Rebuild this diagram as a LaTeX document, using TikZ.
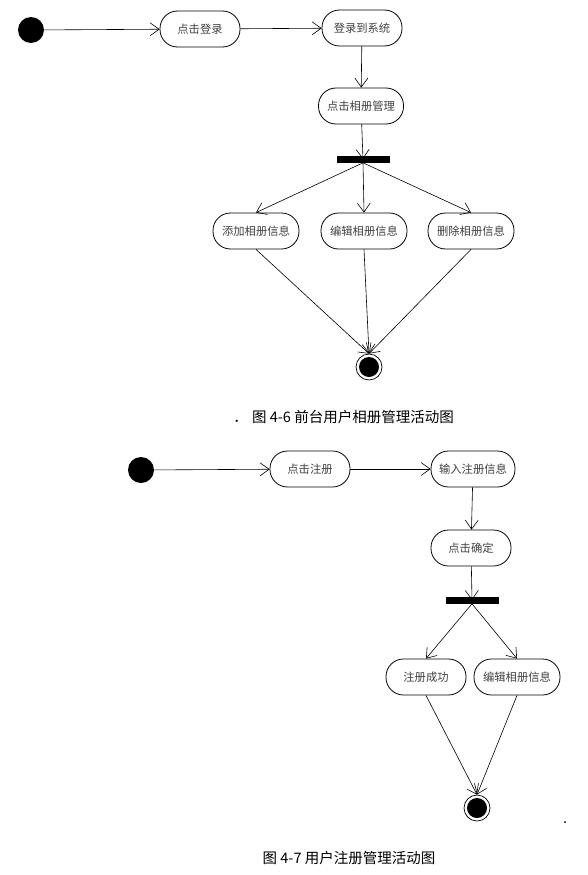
\documentclass[tikz,border=0pt]{standalone}
\usepackage{fontspec}
\setmainfont{Noto Sans CJK SC}
\usetikzlibrary{arrows.meta}

\begin{document}
\begin{tikzpicture}[x=1pt,y=-1pt,line cap=butt,line join=miter,>={Straight Barb[length=9pt,width=13pt]},line width=0.6pt]
		\tikzset{act/.style={draw,line width=0.8pt,rectangle,rounded corners=17.5pt,minimum width=80pt,minimum height=36pt,inner sep=2pt,font=\fontsize{11.3}{13}\selectfont,text=black!75},
			wideact/.style={act,minimum width=86pt},
			startdot/.style={circle,fill=black,minimum size=26pt,inner sep=0pt},
			stopdot/.style={circle,draw,line width=0.7pt,minimum size=26pt,inner sep=0pt,
				path picture={\fill (path picture bounding box.center) circle (10pt);}},
			forkbar/.style={fill=black,minimum width=53pt,minimum height=7pt,inner sep=0pt},
			captext/.style={font=\fontsize{14.5}{16}\selectfont,inner sep=0pt}
		}
		\useasboundingbox (0,0) rectangle (587,875);
		% 图 4-6
		\node[startdot] (start1) at (31,30) {};
		\node[act] (click) at (200,29) {点击登录};
		\node[act] (sys) at (362,28) {登录到系统};
		\node[act,minimum width=85pt] (manage) at (361,106) {点击相册管理};
		\node[forkbar] (fork1) at (363,159) {};
		\node[wideact] (add) at (256,231) {添加相册信息};
		\node[wideact] (edit) at (364,231) {编辑相册信息};
		\node[wideact] (del) at (471,231) {删除相册信息};
		\node[stopdot] (stop1) at (369,367) {};
		\node[captext,anchor=west] (cap1) at (233,417) {．\hspace{0.3em}图 4-6 前台用户相册管理活动图};
		\draw[->] (start1) -- (click);
		\draw[->] (click) -- (sys);
		\draw[->] (sys) -- (manage);
		\draw[->] (manage) -- (fork1.center);
		\draw[->] (fork1.south) -- (add.north);
		\draw[->] (fork1.south) -- (edit.north);
		\draw[->] (fork1.south) -- (del.north);
		\draw[->] (add.south) -- (stop1.north);
		\draw[->] (edit.south) -- (stop1.north);
		\draw[->] (del.south) -- (stop1.north);
		% 图 4-7
		\node[startdot] (start2) at (141,470) {};
		\node[act] (reg) at (310,469) {点击注册};
		\node[act,minimum width=84pt] (input) at (473,469) {输入注册信息};
		\node[act] (ok) at (471,548) {点击确定};
		\node[forkbar] (fork2) at (472,600) {};
		\node[act] (done) at (426,677) {注册成功};
		\node[wideact] (edit2) at (517,677) {编辑相册信息};
		\node[stopdot] (stop2) at (477,808) {};
		\coordinate (mark) at (565,822);
		\fill (mark) circle (1pt);
		\node[captext] (cap2) at (349,858) {图 4-7 用户注册管理活动图};
		\draw[->] (start2) -- (reg);
		\draw[->] (reg) -- (input);
		\draw[->] (input) -- (ok);
		\draw[->] (ok) -- (fork2.center);
		\draw[->] (fork2.south) -- (done.north);
		\draw[->] (fork2.south) -- (edit2.north);
		\draw[->] (done.south) -- (stop2.north);
		\draw[->] (edit2.south) -- (stop2.north);
	\end{tikzpicture}
\end{document}
